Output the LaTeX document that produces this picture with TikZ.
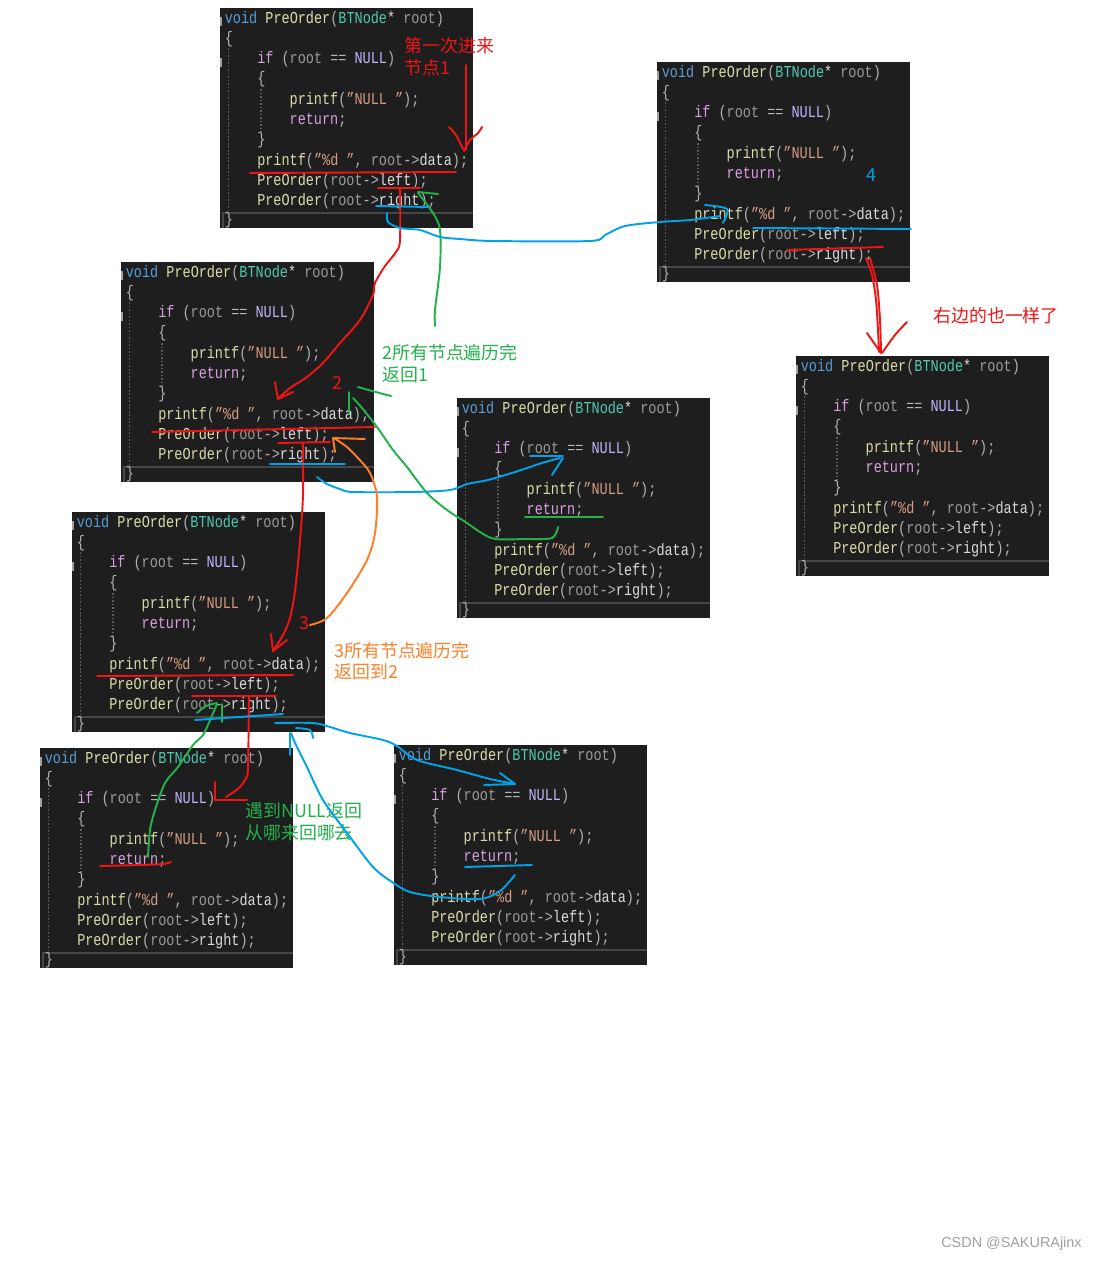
\documentclass[tikz,border=0pt]{standalone}
\usepackage{fontspec}
\setmainfont{Liberation Sans}
\newfontfamily\codefont{Liberation Mono}[FakeStretch=0.81]
\newfontfamily\cjk{Noto Sans CJK SC}
\usetikzlibrary{calc}
\definecolor{codebg}{RGB}{30,30,30}
\definecolor{keywordblue}{RGB}{86,156,214}
\definecolor{funcyellow}{RGB}{220,220,170}
\definecolor{typeteal}{RGB}{78,201,176}
\definecolor{paramgray}{RGB}{154,154,154}
\definecolor{ctrlpurple}{RGB}{216,160,223}
\definecolor{macropurple}{RGB}{190,183,255}
\definecolor{stringbrown}{RGB}{214,157,133}
\definecolor{membergray}{RGB}{218,218,218}
\definecolor{punctgray}{RGB}{180,180,180}
\definecolor{guidegray}{RGB}{95,95,95}
\definecolor{linegray}{RGB}{70,70,70}
\definecolor{markgray}{RGB}{160,160,160}
\definecolor{notered}{RGB}{240,20,20}
\definecolor{notegreen}{RGB}{34,177,76}
\definecolor{noteblue}{RGB}{0,162,232}
\definecolor{noteorange}{RGB}{255,127,39}

\newcommand{\kwd}[1]{\textcolor{keywordblue}{#1}}
\newcommand{\fnc}[1]{\textcolor{funcyellow}{#1}}
\newcommand{\typ}[1]{\textcolor{typeteal}{#1}}
\newcommand{\prm}[1]{\textcolor{paramgray}{#1}}
\newcommand{\ctl}[1]{\textcolor{ctrlpurple}{#1}}
\newcommand{\mcr}[1]{\textcolor{macropurple}{#1}}
\newcommand{\strg}[1]{\textcolor{stringbrown}{#1}}
\newcommand{\mem}[1]{\textcolor{membergray}{#1}}
\newcommand{\pct}[1]{\textcolor{punctgray}{#1}}

\tikzset{
  panelbox/.style={anchor=north west, fill=codebg, minimum width=5.06cm, minimum height=4.4cm, inner sep=0pt, outer sep=0pt},
  codeline/.style={anchor=base west, inner sep=0pt, text=membergray, font=\codefont\fontsize{9.5}{11}\selectfont},
  indentguide/.style={guidegray, dash pattern=on 1pt off 1pt, line width=0.6pt},
  ink/.style={line width=1.1pt, line cap=round, line join=round},
  notetext/.style={anchor=base west, inner sep=0pt, font=\cjk\fontsize{10.2}{12}\selectfont},
  numtext/.style={inner sep=0pt, font=\cjk\fontsize{10.2}{12}\selectfont}
}

% one call of PreOrder: name, left, top (in px)
\newcommand{\codepanel}[3]{%
\begin{scope}[shift={(#2,#3)}]
  \node[panelbox] (#1) at (0,0) {};
  \draw[indentguide] (8.5,40) -- (8.5,202);
  \draw[indentguide] (41,81) -- (41,124);
  \fill[markgray] (0,9) rectangle (2,18);
  \fill[markgray] (0,50) rectangle (2,59);
  \draw[linegray, line width=1pt] (3,220) -- (3,205) -- (253,205);
  \node[codeline] (#1-l0) at (4.5,15) {\kwd{void} \fnc{PreOrder}\pct{(}\typ{BTNode}\mem{*} \prm{root}\pct{)}};
  \node[codeline] (#1-l1) at (4.5,35.3) {\pct{\{}};
  \node[codeline] (#1-l2) at (36.9,55.6) {\ctl{if} \pct{(}\prm{root} \pct{==} \mcr{NULL}\pct{)}};
  \node[codeline] (#1-l3) at (36.9,75.9) {\pct{\{}};
  \node[codeline] (#1-l4) at (69.3,96.2) {\fnc{printf}\pct{(}\strg{”NULL ”}\pct{);}};
  \node[codeline] (#1-l5) at (69.3,116.5) {\ctl{return}\pct{;}};
  \node[codeline] (#1-l6) at (36.9,136.8) {\pct{\}}};
  \node[codeline] (#1-l7) at (36.9,157.1) {\fnc{printf}\pct{(}\strg{”\%d ”}\pct{,} \prm{root}\pct{->}\mem{data}\pct{);}};
  \node[codeline] (#1-l8) at (36.9,177.4) {\fnc{PreOrder}\pct{(}\prm{root}\pct{->}\mem{left}\pct{);}};
  \node[codeline] (#1-l9) at (36.9,197.7) {\fnc{PreOrder}\pct{(}\prm{root}\pct{->}\mem{right}\pct{);}};
  \node[codeline] (#1-l10) at (4.5,216) {\pct{\}}};
\end{scope}}

\begin{document}
\begin{tikzpicture}[x=0.02cm, y=-0.02cm]
\fill[white] (0,0) rectangle (1098,1261);
\useasboundingbox (0,0) rectangle (1098,1261);

\codepanel{node1}{220}{8}
\codepanel{node1b}{657}{62}
\codepanel{node2}{121}{262}
\codepanel{node2r}{457}{398}
\codepanel{node1r}{796}{356}
\codepanel{node3}{72}{512}
\codepanel{node3l}{40}{748}
\codepanel{node3r}{394}{745}

% red: going down the left side
\node[notetext, text=notered] (firstin) at (404,52) {第一次进来};
\node[notetext, text=notered] (firstin2) at (404,74) {节点1};
\draw[ink, notered] (466,65) -- (466,150);
\draw[ink, notered] plot[smooth] coordinates {(449,127) (456,135) (463,149)};
\draw[ink, notered] plot[smooth] coordinates {(482,127) (478,133) (470,140) (464,151)};
\draw[ink, notered] (250,173) -- (456,172);
\draw[ink, notered] (378,188) -- (420,188);
\draw[ink, notered] plot[smooth, tension=0.5] coordinates {(400,188) (400,240) (396,252) (385,266) (375,283) (373,295) (360,320) (340,343) (323,363) (307,377) (290,388) (279,398)};
\draw[ink, notered] (275,382) -- (278,399) -- (293,392);
\node[numtext, text=notered] (two) at (337,383) {2};
\draw[ink, notered] (152,432) -- (375,427);
\draw[ink, notered] (278,443) -- (330,442);
\draw[ink, notered] plot[smooth, tension=0.5] coordinates {(303,443) (303,495) (300,541) (295,591) (290,618) (283,635) (273,651)};
\draw[ink, notered] (271,634) -- (273,651) -- (287,640);
\node[numtext, text=notered] (three) at (304,623) {3};
\draw[ink, notered] (97,676) -- (293,675);
\draw[ink, notered] (192,696) -- (276,696);
\draw[ink, notered] plot[smooth, tension=0.5] coordinates {(249,696) (248,767) (246,778) (239,788) (226,797)};
\draw[ink, notered] (215,782) -- (215,800) -- (247,800);
\draw[ink, notered] plot[smooth] coordinates {(100,866) (140,865) (163,864) (171,862)};
\draw[ink, notered] (787,250) -- (883,247);
\draw[ink, notered] plot[smooth] coordinates {(866,258) (872,275) (876,300) (878,330) (879,352)};
\draw[ink, notered] plot[smooth] coordinates {(870,258) (877,285) (880,320) (881,352)};
\draw[ink, notered] (867,333) -- (881,353);
\draw[ink, notered] plot[smooth] coordinates {(907,322) (895,335) (882,353)};
\node[notetext, text=notered] (rightsame) at (933,322) {右边的也一样了};

% green: coming back up
\node[notetext, text=notegreen] (back1) at (382,359) {2所有节点遍历完};
\node[notetext, text=notegreen] (back1b) at (382,381) {返回1};
\draw[ink, notegreen] plot[smooth, tension=0.5] coordinates {(435,326) (435,310) (440,267) (440,230) (433,213) (418,193)};
\draw[ink, notegreen] (418,192) -- (438,194);
\draw[ink, notegreen] (349,392) -- (349,413);
\draw[ink, notegreen] plot[smooth] coordinates {(358,387) (372,391) (391,396)};
\draw[ink, notegreen] plot[smooth, tension=0.5] coordinates {(353,398) (362,408) (377,427) (393,450) (407,467) (427,493) (447,510) (467,523) (480,532) (495,539) (525,539) (552,538) (558,527)};
\draw[ink, notegreen] (525,517) -- (603,517);
\node[notetext, text=notegreen] (nullback) at (245,817) {遇到NULL返回};
\node[notetext, text=notegreen] (nullback2) at (245,839) {从哪来回哪去};
\draw[ink, notegreen] plot[smooth, tension=0.5] coordinates {(148,857) (150,830) (155,810) (165,783) (178,767) (193,745) (203,735) (211,718) (217,704)};
\draw[ink, notegreen] plot[smooth] coordinates {(197,713) (206,706) (217,703)};
\draw[ink, notegreen] (222,704) -- (222,722);

% blue: the right calls
\node[numtext, text=noteblue] (four) at (871,175) {4};
\draw[ink, noteblue] (376,206) -- (428,207);
\draw[ink, noteblue] plot[smooth, tension=0.5] coordinates {(387,213) (388,222) (400,228) (420,230) (440,237) (460,239) (493,241) (590,241) (605,235) (625,226) (660,222) (690,220) (720,216)};
\draw[ink, noteblue] plot[smooth] coordinates {(705,205) (727,209) (723,223)};
\draw[ink, noteblue] (753,228) -- (911,229);
\draw[ink, noteblue] (270,464) -- (345,464);
\draw[ink, noteblue] plot[smooth, tension=0.5] coordinates {(317,477) (327,484) (340,489) (353,492) (413,492) (450,490) (467,484) (488,480) (515,472) (542,463) (560,458)};
\draw[ink, noteblue] (530,456) -- (563,456);
\draw[ink, noteblue] (563,458) -- (552,475);
\draw[ink, noteblue] (195,720) -- (283,714);
\draw[ink, noteblue] plot[smooth, tension=0.5] coordinates {(275,723) (313,723) (330,727) (350,733) (383,740) (397,746) (417,760) (457,770) (490,779) (515,784)};
\draw[ink, noteblue] (500,773) -- (515,784) -- (484,785);
\draw[ink, noteblue] (465,867) -- (532,865);
\draw[ink, noteblue] plot[smooth, tension=0.5] coordinates {(515,875) (500,891) (480,899) (440,897) (410,892) (392,882) (373,867) (350,837) (323,800) (307,767) (296,745) (291,733)};
\draw[ink, noteblue] (290,733) -- (290,755);
\draw[ink, noteblue] plot[smooth] coordinates {(296,728) (310,730) (313,738)};

% orange: back to 2
\node[notetext, text=noteorange] (back2) at (334,657) {3所有节点遍历完};
\node[notetext, text=noteorange] (back2b) at (334,678) {返回到2};
\draw[ink, noteorange] plot[smooth, tension=0.5] coordinates {(310,625) (327,618) (347,593) (367,560) (375,533) (377,497) (370,473) (357,457) (347,447) (334,438)};
\draw[ink, noteorange] (333,438) -- (365,439);
\draw[ink, noteorange] (333,438) -- (335,452);

\node[anchor=east, inner sep=0pt, text=markgray, font=\fontsize{8.2}{10}\selectfont] (credit) at (1082,1244) {CSDN @SAKURAjinx};
\end{tikzpicture}
\end{document}
